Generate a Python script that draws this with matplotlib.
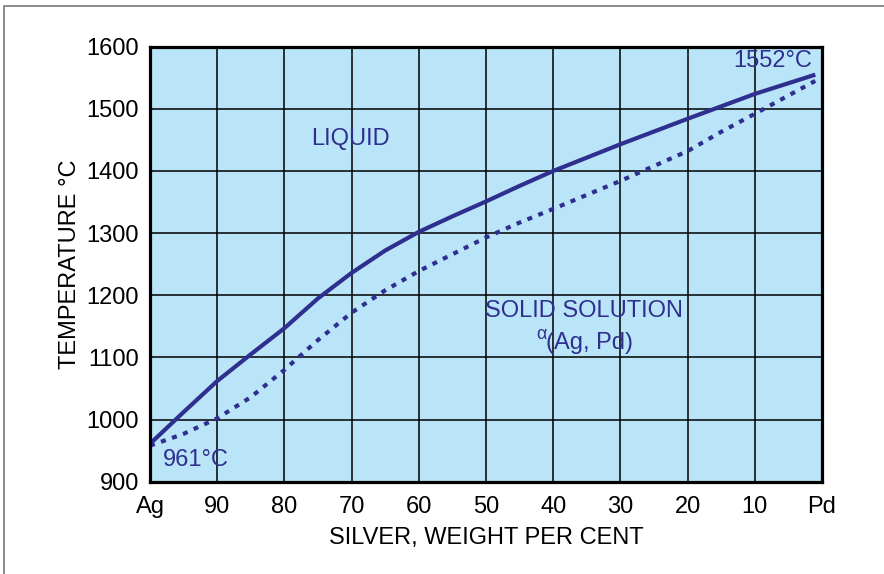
import matplotlib.pyplot as plt
from matplotlib.lines import Line2D

plt.rcParams['font.family'] = ['Liberation Sans', 'DejaVu Sans']

# silver content (wt %) and temperatures
silver = [100, 95, 90, 85, 80, 75, 70, 65, 60, 55, 50, 45, 40, 30, 20, 15, 10, 1]
liquidus = [961, 1012, 1062, 1105, 1147, 1195, 1236, 1272, 1302, 1327, 1351, 1376,
            1400, 1443, 1484, 1504, 1524, 1555]
solidus = [958, 977, 1002, 1036, 1080, 1128, 1172, 1208, 1239, 1266, 1293, 1317,
           1339, 1384, 1432, 1463, 1492, 1545]

x_ticks = [100, 90, 80, 70, 60, 50, 40, 30, 20, 10, 0]
x_labels = ['Ag', '90', '80', '70', '60', '50', '40', '30', '20', '10', 'Pd']
y_ticks = [900, 1000, 1100, 1200, 1300, 1400, 1500, 1600]

navy = '#2E2F8F'
bg = '#BAE4F8'

fig = plt.figure(figsize=(8.84, 5.74), dpi=100)
ax = fig.add_axes([150 / 884, 1 - 481.7 / 574, 672 / 884, 435 / 574])
ax.set_facecolor(bg)

ax.plot(silver, liquidus, color=navy, lw=3, solid_capstyle='butt',
        solid_joinstyle='round', zorder=3)
ax.plot(silver, solidus, color=navy, lw=3, linestyle=(0, (1.2, 1.6)),
        dash_capstyle='butt', zorder=3)

ax.set_xlim(100, 0)
ax.set_ylim(900, 1600)
ax.set_xticks(x_ticks)
ax.set_xticklabels(x_labels)
ax.set_yticks(y_ticks)
ax.grid(True, color='black', lw=1.1)
ax.set_axisbelow(True)
for s in ax.spines.values():
    s.set_linewidth(2.3)
    s.set_zorder(4)
ax.tick_params(axis='x', length=0, labelsize=17, pad=10)
ax.tick_params(axis='y', length=0, labelsize=17, pad=8)

ax.set_xlabel('SILVER, WEIGHT PER CENT', fontsize=17, labelpad=7)
ax.set_ylabel('TEMPERATURE °C', fontsize=17, labelpad=4)

tkw = dict(color=navy, fontsize=17, zorder=5)
ax.text(70.1, 1451, 'LIQUID', ha='center', va='center', **tkw)
ax.text(35.5, 1174, 'SOLID SOLUTION', ha='center', va='center', **tkw)
ax.text(41.0, 1123, '(Ag, Pd)', ha='left', va='center', **tkw)
ax.text(41.0, 1137, 'α', ha='right', va='center', color=navy, fontsize=13, zorder=5)
ax.text(98.1, 935, '961°C', ha='left', va='center', **tkw)
ax.text(1.4, 1577, '1552°C', ha='right', va='center', **tkw)

# thin frame round the figure (left and top edges are visible)
fig.add_artist(Line2D([4 / 884, 4 / 884, 1], [0, 1 - 6 / 574, 1 - 6 / 574],
                      transform=fig.transFigure, color='#777777', lw=1.2))

fig.savefig('out.png', dpi=100)
